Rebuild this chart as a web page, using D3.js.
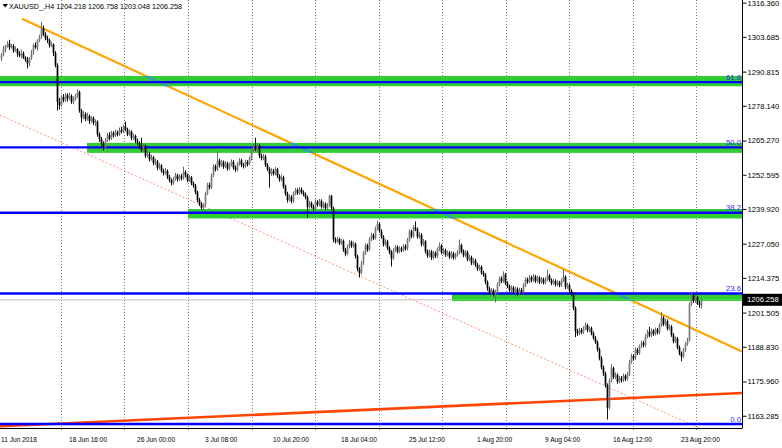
<!DOCTYPE html>
<html><head><meta charset="utf-8">
<script src="https://cdn.jsdelivr.net/npm/d3@7"></script>
<style>html,body{margin:0;padding:0;background:#fff}svg{display:block}</style>
</head><body>
<svg id="chart" width="782" height="448"></svg>
<script>
const symbolTitle = "XAUUSD_,H4";
const headerValues = ["1204.218", "1206.758", "1203.048", "1206.258"];

const opens = [1295.5,1297.0,1299.2,1300.3,1301.2,1299.8,1300.4,1298.6,1299.1,1297.5,
1296.8,1297.6,1295.9,1295.2,1293.9,1295.8,1297.9,1300.6,1299.8,1302.4,
1303.6,1306.8,1304.6,1303.2,1302.6,1300.5,1300.9,1297.8,1293.2,1279.6,
1278.3,1281.4,1280.2,1282.1,1280.9,1281.8,1279.6,1280.7,1281.9,1283.2,
1276.4,1273.8,1275.1,1273.2,1274.4,1272.5,1273.6,1271.8,1272.2,1267.5,
1265.9,1264.2,1262.8,1265.4,1267.3,1266.1,1268.0,1267.2,1268.4,1267.5,
1269.2,1268.6,1270.4,1269.3,1267.6,1268.5,1266.2,1266.9,1265.1,1264.3,
1262.9,1261.8,1263.2,1259.6,1260.4,1258.3,1259.1,1256.9,1257.5,1255.2,
1256.0,1254.1,1253.2,1254.0,1251.8,1250.6,1249.5,1251.0,1252.4,1250.9,
1252.0,1251.3,1253.6,1252.4,1250.5,1251.6,1249.4,1248.6,1246.1,1243.2,
1241.9,1240.3,1241.2,1245.6,1248.8,1247.9,1252.4,1255.7,1254.6,1257.8,
1256.1,1257.2,1255.6,1256.8,1254.9,1256.3,1257.4,1255.2,1254.4,1256.6,
1257.9,1256.2,1255.8,1257.3,1256.5,1258.4,1261.6,1263.2,1262.1,1263.4,
1259.6,1258.7,1259.4,1256.2,1254.8,1252.9,1254.1,1253.0,1254.6,1252.1,
1250.8,1251.7,1248.2,1245.6,1243.2,1244.4,1242.8,1245.6,1246.9,1245.8,
1247.2,1246.1,1245.3,1244.2,1240.6,1242.1,1240.8,1239.9,1242.6,1241.4,
1242.9,1240.7,1241.8,1240.2,1241.3,1244.8,1240.2,1228.6,1227.9,1228.8,
1227.2,1228.1,1224.8,1223.3,1225.9,1227.6,1226.2,1227.0,1222.4,1217.6,
1216.2,1219.8,1223.5,1226.4,1224.9,1228.6,1230.2,1229.1,1232.6,1234.4,
1231.8,1229.6,1226.8,1227.9,1225.4,1223.9,1221.6,1224.6,1225.8,1224.1,
1225.3,1224.6,1226.1,1225.2,1228.4,1231.6,1229.8,1233.1,1232.4,1229.6,
1230.4,1226.8,1227.9,1224.2,1222.6,1224.1,1221.8,1223.6,1222.4,1224.9,
1226.3,1223.8,1224.6,1222.9,1223.7,1222.1,1223.4,1221.8,1222.9,1223.8,
1226.5,1224.2,1222.7,1223.9,1221.2,1222.0,1219.8,1220.9,1219.2,1217.6,
1218.4,1216.3,1215.6,1212.8,1210.4,1208.9,1209.8,1208.3,1209.1,1211.9,
1214.2,1213.1,1215.6,1212.4,1211.3,1209.7,1210.8,1209.2,1210.3,1208.8,
1209.9,1209.1,1211.6,1213.8,1212.9,1214.6,1213.4,1214.9,1213.2,1214.4,
1212.8,1213.9,1212.6,1213.8,1215.2,1213.6,1212.4,1213.2,1211.9,1212.7,
1211.6,1213.4,1214.8,1210.9,1211.8,1209.6,1208.4,1203.2,1194.6,1193.8,
1195.1,1194.2,1195.6,1196.8,1194.9,1195.7,1193.8,1192.1,1190.6,1187.9,
1184.6,1181.2,1178.9,1174.6,1166.2,1176.3,1180.9,1177.6,1178.4,1175.9,
1177.2,1176.4,1178.1,1176.9,1178.6,1183.2,1185.4,1184.6,1187.8,1186.5,
1188.9,1190.3,1189.4,1192.6,1194.4,1193.1,1194.8,1193.6,1195.2,1194.1,
1196.8,1199.6,1197.2,1198.4,1195.6,1196.3,1193.2,1190.8,1191.9,1188.6,
1186.4,1185.2,1187.6,1189.8,1191.4,1204.6,1207.9,1205.8,1207.2,1205.1,
1204.218];

const highs = [1297.6,1300.3,1300.7,1302.1,1302.6,1301.1,1301.0,1300.2,1299.5,1298.4,
1299.0,1298.3,1296.5,1296.3,1296.2,1298.8,1301.3,1301.7,1302.8,1304.5,
1309.3,1307.9,1305.4,1304.1,1303.0,1302.0,1301.3,1298.4,1293.9,1281.0,
1282.1,1282.5,1282.9,1282.8,1283.0,1282.4,1281.6,1282.6,1284.3,1283.8,
1277.0,1276.2,1275.8,1275.6,1274.9,1274.3,1274.2,1273.1,1272.8,1268.3,
1266.6,1265.0,1266.2,1268.1,1268.4,1268.9,1268.7,1269.3,1269.0,1270.1,
1270.4,1271.2,1272.3,1270.0,1269.4,1269.1,1267.8,1267.5,1265.9,1265.0,
1266.3,1264.0,1263.8,1261.5,1261.0,1260.0,1259.6,1258.6,1258.1,1256.9,
1256.5,1254.8,1255.1,1254.6,1252.5,1251.2,1251.8,1253.3,1253.0,1252.8,
1252.9,1255.6,1254.3,1253.0,1252.4,1252.1,1250.1,1249.2,1246.7,1244.0,
1242.5,1242.0,1246.3,1249.6,1249.7,1253.1,1256.5,1256.4,1261.2,1258.6,
1258.1,1257.9,1257.7,1257.4,1257.1,1258.3,1258.0,1256.0,1257.3,1258.8,
1258.5,1257.0,1258.2,1258.0,1259.3,1262.4,1264.1,1266.3,1264.5,1264.0,
1260.4,1260.3,1260.0,1256.9,1255.4,1255.0,1254.8,1255.5,1255.1,1252.8,
1252.6,1252.2,1248.9,1246.3,1245.3,1245.0,1246.4,1247.7,1247.6,1248.1,
1247.9,1246.8,1246.0,1244.8,1242.9,1242.7,1241.5,1243.4,1243.2,1243.7,
1243.5,1242.6,1242.4,1242.1,1245.2,1245.1,1240.8,1229.4,1229.6,1229.3,
1228.9,1228.6,1225.5,1226.7,1228.5,1228.2,1227.9,1227.5,1223.0,1218.3,
1220.6,1224.3,1227.2,1227.0,1229.4,1231.1,1230.9,1233.4,1235.6,1235.0,
1232.4,1230.2,1228.7,1228.5,1226.1,1224.6,1225.4,1226.6,1226.4,1226.1,
1226.0,1226.9,1226.8,1229.2,1232.4,1232.2,1233.9,1235.3,1233.0,1231.3,
1231.0,1228.8,1228.4,1224.9,1224.9,1224.7,1224.4,1224.2,1225.7,1227.5,
1226.9,1225.5,1225.2,1224.5,1224.3,1224.2,1224.0,1223.7,1224.6,1228.6,
1227.1,1224.9,1224.7,1224.5,1222.9,1222.6,1221.7,1221.5,1219.9,1219.3,
1219.0,1217.0,1216.2,1213.4,1211.1,1210.6,1210.4,1209.9,1212.7,1215.0,
1214.9,1216.8,1216.2,1213.1,1211.9,1211.6,1211.4,1211.1,1210.9,1210.7,
1210.6,1212.4,1214.6,1214.5,1215.5,1215.2,1215.8,1215.5,1215.2,1215.0,
1214.7,1214.5,1214.6,1217.5,1215.8,1214.2,1214.0,1213.8,1213.5,1213.3,
1214.2,1217.5,1215.3,1212.6,1212.3,1210.2,1209.0,1203.8,1195.5,1195.9,
1195.8,1196.4,1197.9,1197.4,1196.5,1196.3,1194.5,1192.8,1191.2,1188.5,
1185.3,1181.9,1179.6,1175.3,1177.1,1182.4,1181.5,1179.3,1179.0,1178.0,
1178.0,1178.9,1178.7,1179.5,1184.0,1186.2,1186.1,1188.6,1188.4,1189.7,
1191.2,1191.0,1193.4,1195.2,1196.2,1195.6,1195.4,1196.0,1195.8,1197.6,
1201.6,1200.2,1199.2,1199.0,1197.1,1196.9,1193.9,1192.7,1192.5,1189.3,
1187.1,1188.4,1190.6,1192.2,1205.4,1209.2,1208.6,1208.0,1207.8,1205.9,
1206.758];

const lows = [1294.7,1296.5,1298.0,1299.7,1298.8,1299.4,1297.8,1298.1,1296.3,1296.2,
1295.8,1295.5,1294.4,1292.0,1292.7,1295.2,1297.1,1299.3,1298.6,1301.8,
1303.0,1304.0,1302.4,1301.4,1299.7,1299.9,1296.6,1292.4,1276.4,1276.9,
1277.8,1279.4,1279.6,1279.7,1280.3,1278.9,1278.8,1280.1,1281.2,1275.6,
1271.9,1273.2,1272.4,1272.6,1271.4,1271.9,1271.0,1270.6,1266.7,1264.8,
1263.4,1261.6,1262.2,1264.7,1265.3,1265.5,1266.4,1266.6,1266.8,1267.0,
1267.9,1268.1,1268.7,1266.9,1267.0,1265.4,1265.6,1264.3,1263.6,1262.1,
1260.9,1261.0,1258.8,1259.0,1257.5,1257.8,1256.1,1256.2,1254.3,1254.6,
1253.4,1252.3,1252.6,1251.0,1249.8,1248.6,1248.9,1250.4,1250.1,1250.3,
1250.5,1250.8,1251.6,1249.8,1249.9,1248.7,1247.8,1245.3,1242.4,1241.0,
1239.6,1239.0,1240.6,1245.0,1247.1,1247.3,1251.8,1253.8,1254.0,1255.3,
1255.5,1254.8,1255.0,1254.1,1254.3,1255.7,1254.5,1253.6,1253.9,1256.0,
1255.4,1254.9,1255.2,1255.7,1256.0,1257.9,1261.0,1261.4,1261.5,1258.8,
1257.9,1258.0,1255.5,1254.0,1247.8,1252.2,1252.3,1252.4,1251.4,1250.0,
1250.1,1247.5,1244.8,1242.3,1242.6,1242.0,1242.2,1245.0,1245.1,1245.2,
1245.4,1244.6,1243.5,1236.7,1240.0,1240.1,1239.2,1239.4,1240.7,1240.9,
1240.0,1240.1,1239.5,1239.7,1240.8,1239.4,1227.5,1227.1,1227.3,1226.5,
1226.6,1224.0,1222.4,1222.8,1225.3,1225.5,1225.6,1221.6,1216.8,1214.5,
1215.6,1219.2,1222.9,1224.1,1224.3,1228.0,1228.4,1228.6,1232.0,1231.1,
1228.9,1226.0,1226.2,1224.7,1223.1,1218.6,1221.0,1224.0,1223.4,1223.5,
1223.9,1224.0,1224.5,1224.6,1227.8,1229.1,1229.2,1231.7,1228.9,1228.9,
1226.0,1226.2,1223.4,1221.8,1222.0,1221.0,1221.2,1221.7,1221.8,1224.3,
1223.1,1223.2,1222.2,1222.3,1221.4,1221.5,1221.1,1221.2,1222.3,1223.2,
1223.5,1222.0,1222.1,1220.5,1220.6,1219.1,1219.2,1218.5,1216.9,1217.0,
1215.6,1214.8,1212.0,1209.6,1208.1,1208.2,1207.5,1205.3,1208.5,1211.3,
1212.4,1212.5,1211.7,1210.6,1209.0,1209.1,1208.5,1208.6,1207.6,1208.2,
1208.4,1208.5,1211.0,1212.2,1212.3,1212.7,1212.8,1212.5,1212.6,1212.1,
1212.2,1211.9,1212.0,1213.2,1212.9,1211.7,1211.8,1211.2,1211.3,1210.9,
1211.0,1212.8,1210.2,1210.3,1208.9,1207.6,1202.4,1192.4,1192.9,1193.1,
1193.5,1193.6,1195.0,1194.2,1194.3,1193.1,1191.4,1189.9,1187.1,1183.8,
1180.4,1178.0,1173.7,1161.9,1165.6,1175.7,1176.9,1176.8,1175.1,1175.3,
1175.6,1175.8,1176.1,1176.3,1178.0,1182.6,1183.8,1184.0,1185.8,1185.9,
1188.3,1188.6,1188.8,1192.0,1192.4,1192.5,1192.9,1193.0,1193.4,1193.5,
1196.2,1196.5,1196.6,1194.9,1195.0,1192.5,1190.1,1190.2,1187.9,1185.7,
1183.5,1184.6,1187.0,1189.2,1190.8,1204.0,1205.1,1205.2,1204.4,1203.3,
1203.048];

const closes = [1297.0,1299.2,1300.3,1301.2,1299.8,1300.4,1298.6,1299.1,1297.5,1296.8,
1297.6,1295.9,1295.2,1293.9,1295.8,1297.9,1300.6,1299.8,1302.4,1303.6,
1306.8,1304.6,1303.2,1302.6,1300.5,1300.9,1297.8,1293.2,1279.6,1278.3,
1281.4,1280.2,1282.1,1280.9,1281.8,1279.6,1280.7,1281.9,1283.2,1276.4,
1273.8,1275.1,1273.2,1274.4,1272.5,1273.6,1271.8,1272.2,1267.5,1265.9,
1264.2,1262.8,1265.4,1267.3,1266.1,1268.0,1267.2,1268.4,1267.5,1269.2,
1268.6,1270.4,1269.3,1267.6,1268.5,1266.2,1266.9,1265.1,1264.3,1262.9,
1261.8,1263.2,1259.6,1260.4,1258.3,1259.1,1256.9,1257.5,1255.2,1256.0,
1254.1,1253.2,1254.0,1251.8,1250.6,1249.5,1251.0,1252.4,1250.9,1252.0,
1251.3,1253.6,1252.4,1250.5,1251.6,1249.4,1248.6,1246.1,1243.2,1241.9,
1240.3,1241.2,1245.6,1248.8,1247.9,1252.4,1255.7,1254.6,1257.8,1256.1,
1257.2,1255.6,1256.8,1254.9,1256.3,1257.4,1255.2,1254.4,1256.6,1257.9,
1256.2,1255.8,1257.3,1256.5,1258.4,1261.6,1263.2,1262.1,1263.4,1259.6,
1258.7,1259.4,1256.2,1254.8,1252.9,1254.1,1253.0,1254.6,1252.1,1250.8,
1251.7,1248.2,1245.6,1243.2,1244.4,1242.8,1245.6,1246.9,1245.8,1247.2,
1246.1,1245.3,1244.2,1240.6,1242.1,1240.8,1239.9,1242.6,1241.4,1242.9,
1240.7,1241.8,1240.2,1241.3,1244.8,1240.2,1228.6,1227.9,1228.8,1227.2,
1228.1,1224.8,1223.3,1225.9,1227.6,1226.2,1227.0,1222.4,1217.6,1216.2,
1219.8,1223.5,1226.4,1224.9,1228.6,1230.2,1229.1,1232.6,1234.4,1231.8,
1229.6,1226.8,1227.9,1225.4,1223.9,1221.6,1224.6,1225.8,1224.1,1225.3,
1224.6,1226.1,1225.2,1228.4,1231.6,1229.8,1233.1,1232.4,1229.6,1230.4,
1226.8,1227.9,1224.2,1222.6,1224.1,1221.8,1223.6,1222.4,1224.9,1226.3,
1223.8,1224.6,1222.9,1223.7,1222.1,1223.4,1221.8,1222.9,1223.8,1226.5,
1224.2,1222.7,1223.9,1221.2,1222.0,1219.8,1220.9,1219.2,1217.6,1218.4,
1216.3,1215.6,1212.8,1210.4,1208.9,1209.8,1208.3,1209.1,1211.9,1214.2,
1213.1,1215.6,1212.4,1211.3,1209.7,1210.8,1209.2,1210.3,1208.8,1209.9,
1209.1,1211.6,1213.8,1212.9,1214.6,1213.4,1214.9,1213.2,1214.4,1212.8,
1213.9,1212.6,1213.8,1215.2,1213.6,1212.4,1213.2,1211.9,1212.7,1211.6,
1213.4,1214.8,1210.9,1211.8,1209.6,1208.4,1203.2,1194.6,1193.8,1195.1,
1194.2,1195.6,1196.8,1194.9,1195.7,1193.8,1192.1,1190.6,1187.9,1184.6,
1181.2,1178.9,1174.6,1166.2,1176.3,1180.9,1177.6,1178.4,1175.9,1177.2,
1176.4,1178.1,1176.9,1178.6,1183.2,1185.4,1184.6,1187.8,1186.5,1188.9,
1190.3,1189.4,1192.6,1194.4,1193.1,1194.8,1193.6,1195.2,1194.1,1196.8,
1199.6,1197.2,1198.4,1195.6,1196.3,1193.2,1190.8,1191.9,1188.6,1186.4,
1185.2,1187.6,1189.8,1191.4,1204.6,1207.9,1205.8,1207.2,1205.1,1204.218,
1206.258];

const priceTicks = [1316.360,1303.685,1290.815,1278.140,1265.270,1252.595,1239.920,1227.050,1214.375,1201.505,1188.830,1175.960,1163.285];
const timeLabels = ["11 Jun 2018","18 Jun 16:00","26 Jun 00:00","3 Jul 08:00","10 Jul 20:00","18 Jul 04:00","25 Jul 12:00","1 Aug 20:00","9 Aug 04:00","16 Aug 12:00","23 Aug 20:00"];
const timeLabelBars = [0,34,68,102,136,170,204,238,272,306,340];
const gridBars = [30,61.75,93.5,125.25,157,188.75,220.5,252.25,284,315.75,347.5];

const fibHigh = 1365.23, fibLow = 1160.23;
const fibLevels = [0.0, 23.6, 38.2, 50.0, 61.8];
const fibLabels = ["0.0", "23.6", "38.2", "50.0", "61.8"];

const zoneTops = [1289.2, 1264.4, 1239.9, 1208.8];
const zoneBottoms = [1285.4, 1260.7, 1236.4, 1205.8];
const zoneStartBars = [-0.5, 43, 93.5, 225.5];

const trendResistance = [[10.5, 1310.4], [370.5, 1187.1]];
const trendChannel = [[-0.5, 1274.7], [349.5, 1158.6]];
const trendSupport = [[-0.5, 1159.4], [370.5, 1171.7]];
const lastPrice = 1206.258;
const priceWindow = [1158.74, 1317.36];
const barWindow = [0, 370.5];

// ---------- drawing ----------
const svg = d3.select("#chart");
const W = 782, H = 448, plotW = 742, plotH = 428;
const x = d3.scaleLinear().domain(barWindow).range([1, plotW]);
const y = d3.scaleLinear().domain(priceWindow).range([plotH, 0]);
const FONT = "'Liberation Sans', Arial, sans-serif";

svg.append("rect").attr("width", W).attr("height", H).attr("fill", "#fff");
const defs = svg.append("defs");
defs.append("clipPath").attr("id", "plotClip")
  .append("rect").attr("x", 0).attr("y", 0).attr("width", plotW).attr("height", plotH);

const zoneClip = defs.append("clipPath").attr("id", "zoneClip");
zoneTops.forEach((t, k) => {
  zoneClip.append("rect").attr("x", x(zoneStartBars[k])).attr("y", y(t))
    .attr("width", plotW - x(zoneStartBars[k])).attr("height", y(zoneBottoms[k]) - y(t));
});

// vertical dotted grid
svg.append("g").selectAll("line").data(gridBars).join("line")
  .attr("x1", d => Math.round(x(d)) + 0.5).attr("x2", d => Math.round(x(d)) + 0.5)
  .attr("y1", 0).attr("y2", plotH + 4)
  .attr("stroke", "#808080").attr("stroke-width", 1).attr("stroke-dasharray", "1,2");

const plot = svg.append("g").attr("clip-path", "url(#plotClip)");

// bid line
plot.append("line").attr("x1", 0).attr("x2", plotW)
  .attr("y1", y(lastPrice)).attr("y2", y(lastPrice))
  .attr("stroke", "#c0c0c0").attr("stroke-width", 1);

const lineGen = d3.line().x(d => x(d[0])).y(d => y(d[1]));

plot.append("path").attr("d", lineGen(trendChannel)).attr("fill", "none")
  .attr("stroke", "#ff7f60").attr("stroke-width", 1).attr("stroke-dasharray", "2,2").attr("opacity", 0.85);
plot.append("path").attr("d", lineGen(trendResistance)).attr("fill", "none")
  .attr("stroke", "#ffa500").attr("stroke-width", 2.2);
plot.append("path").attr("d", lineGen(trendSupport)).attr("fill", "none")
  .attr("stroke", "#ff4500").attr("stroke-width", 2.6);

// zones
plot.append("g").selectAll("rect").data(zoneTops).join("rect")
  .attr("x", (d, k) => x(zoneStartBars[k])).attr("y", d => y(d))
  .attr("width", (d, k) => plotW - x(zoneStartBars[k]))
  .attr("height", (d, k) => y(zoneBottoms[k]) - y(d))
  .attr("fill", "#32cd32");

// XOR-like crossing colours inside zones
const zx = plot.append("g").attr("clip-path", "url(#zoneClip)");
zx.append("path").attr("d", lineGen(trendResistance)).attr("fill", "none")
  .attr("stroke", "rgb(50,151,205)").attr("stroke-width", 2.2);
zx.append("line").attr("x1", 0).attr("x2", plotW)
  .attr("y1", y(lastPrice)).attr("y2", y(lastPrice))
  .attr("stroke", "#4ee04e").attr("stroke-width", 1);

// fibonacci lines
const fibPrice = l => fibLow + (fibHigh - fibLow) * l / 100;
plot.append("g").selectAll("line").data(fibLevels).join("line")
  .attr("x1", 0).attr("x2", plotW)
  .attr("y1", d => y(fibPrice(d))).attr("y2", d => y(fibPrice(d)))
  .attr("stroke", "#0000ff").attr("stroke-width", 2.4);
svg.append("g").selectAll("text").data(fibLevels).join("text")
  .attr("x", plotW - 1).attr("y", d => y(fibPrice(d)) - 2.4)
  .attr("text-anchor", "end").attr("font-family", FONT).attr("font-size", 7.7)
  .attr("fill", "#2b2bff").text((d, k) => fibLabels[k]);

// candles
const idx = d3.range(closes.length);
const cg = plot.append("g");
cg.selectAll("line").data(idx).join("line")
  .attr("x1", i => x(i) + 0.5).attr("x2", i => x(i) + 0.5)
  .attr("y1", i => y(highs[i])).attr("y2", i => y(lows[i]))
  .attr("stroke", i => closes[i] >= opens[i] ? "#6a6a6a" : "#111").attr("stroke-width", 1);
cg.selectAll("rect").data(idx).join("rect")
  .attr("x", i => x(i) - 0.35).attr("width", 1.7)
  .attr("y", i => y(Math.max(opens[i], closes[i])))
  .attr("height", i => Math.max(1, Math.abs(y(opens[i]) - y(closes[i]))))
  .attr("fill", i => closes[i] >= opens[i] ? "#7a7a7a" : "#000");

// price axis
const yAxis = d3.axisRight(y).tickValues(priceTicks).tickFormat(d3.format(".3f"))
  .tickSize(4).tickPadding(1);
const ya = svg.append("g").attr("transform", `translate(${plotW + 0.5},0)`).call(yAxis);
ya.select(".domain").attr("stroke", "#000").attr("d", `M0,0V${plotH}`);
ya.selectAll(".tick line").attr("stroke", "#000");
ya.selectAll("text").attr("font-family", FONT).attr("font-size", 7.6).attr("fill", "#000");

// bottom axis line
svg.append("line").attr("x1", 0).attr("x2", plotW + 0.5).attr("y1", plotH + 0.5).attr("y2", plotH + 0.5)
  .attr("stroke", "#000");

// time labels
svg.append("g").selectAll("text").data(timeLabelBars).join("text")
  .attr("x", d => x(d)).attr("y", 442)
  .attr("font-family", FONT).attr("font-size", 6.6).attr("fill", "#000")
  .text((d, k) => timeLabels[k]);

// last price tag
const ly = y(lastPrice);
svg.append("rect").attr("x", plotW + 1).attr("y", ly - 6).attr("width", W - plotW - 1).attr("height", 12).attr("fill", "#000");
svg.append("text").attr("x", plotW + 5).attr("y", ly + 2.7)
  .attr("font-family", FONT).attr("font-size", 7.6).attr("fill", "#fff").text(lastPrice.toFixed(3));

// header
svg.append("path").attr("d", "M2.5,4 L8,4 L5.25,7.5 Z").attr("fill", "#000");
svg.append("text").attr("x", 9).attr("y", 9).attr("font-family", FONT).attr("font-size", 7.2).attr("fill", "#000")
  .text(symbolTitle + " " + headerValues.join(" "));
</script>
</body></html>
